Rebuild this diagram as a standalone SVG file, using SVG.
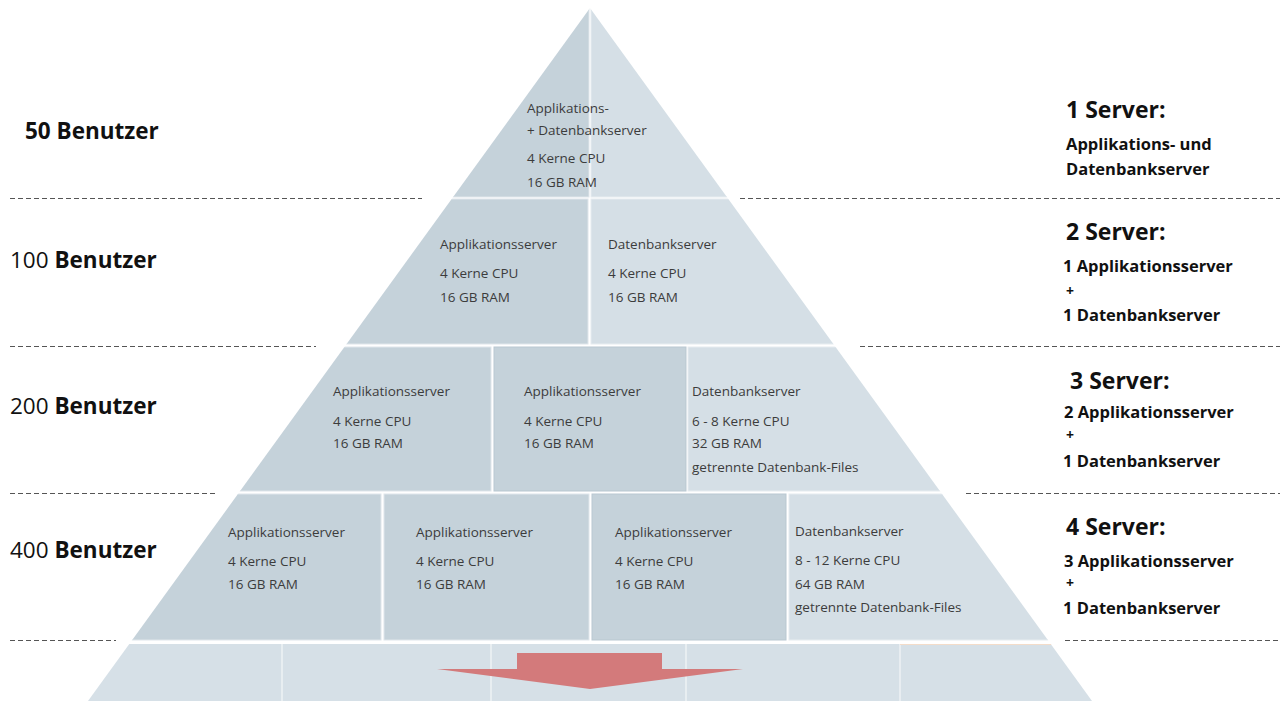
<svg xmlns="http://www.w3.org/2000/svg" width="1282" height="701" viewBox="0 0 1282 701">
<style>
.dk{fill:#c5d2da;stroke:#dfe6eb;stroke-width:1}
.lt{fill:#d5dfe6;stroke:#e6ecf0;stroke-width:1}
.in{font-family:"Open Sans","Noto Sans",sans-serif;font-size:13.5px;fill:#3c3c3c}
.lb{font-family:"Open Sans","Noto Sans",sans-serif;font-size:22.5px;fill:#111}
.rb{font-family:"Open Sans","Noto Sans",sans-serif;font-weight:bold;fill:#111}
.h{font-size:23px}
.s{font-size:16.5px}
.p{font-size:14px}
.dash{stroke:#555;stroke-width:1;stroke-dasharray:5 3;fill:none}
</style>
<defs>
<clipPath id="pyr"><polygon points="590,8 1092,701 88,701"/></clipPath>
</defs>
<rect width="1282" height="701" fill="#ffffff"/>
<g id="pyramid" clip-path="url(#pyr)">
<g id="tier1">
<rect class="dk" x="0" y="0" width="589" height="197"/>
<rect class="lt" x="591" y="0" width="700" height="197"/>
</g>
<g id="tier2">
<rect class="dk" x="0" y="199" width="588" height="145"/>
<rect class="lt" x="591" y="199" width="700" height="145"/>
</g>
<g id="tier3">
<rect class="dk" x="0" y="347" width="491" height="144"/>
<rect class="dk" x="494" y="347" width="192" height="144" style="stroke:#b9c8d1"/>
<rect class="lt" x="688" y="347" width="600" height="144"/>
</g>
<g id="tier4">
<rect class="dk" x="0" y="494" width="381" height="146"/>
<rect class="dk" x="384" y="494" width="205" height="146"/>
<rect class="dk" x="592" y="494" width="194" height="146" style="stroke:#b9c8d1"/>
<rect class="lt" x="789" y="494" width="500" height="146"/>
</g>
<g id="tier5">
<rect x="0" y="644" width="1282" height="60" fill="#d6e0e7"/>
<path d="M282,644V701M491,644V701M686,644V701M900,644V701" stroke="#eef2f5" stroke-width="1.5"/>
<line x1="900" y1="644.5" x2="1100" y2="644.5" stroke="#f3dcc9" stroke-width="1"/>
</g>
</g>
<g id="arrow">
<polygon points="517,653 662,653 662,669 743,669 590,689 437,669 517,669" fill="#d37a7b"/>
</g>
<g id="node-tier1-text">
<text class="in" x="527" y="113">Applikations-</text>
<text class="in" x="527" y="135">+ Datenbankserver</text>
<text class="in" x="527" y="163">4 Kerne CPU</text>
<text class="in" x="527" y="187">16 GB RAM</text>
</g>
<g id="node-tier2-app">
<text class="in" x="440" y="249">Applikationsserver</text>
<text class="in" x="440" y="278">4 Kerne CPU</text>
<text class="in" x="440" y="302">16 GB RAM</text>
</g>
<g id="node-tier2-db">
<text class="in" x="608" y="249">Datenbankserver</text>
<text class="in" x="608" y="278">4 Kerne CPU</text>
<text class="in" x="608" y="302">16 GB RAM</text>
</g>
<g id="node-tier3-app1">
<text class="in" x="333" y="396">Applikationsserver</text>
<text class="in" x="333" y="426">4 Kerne CPU</text>
<text class="in" x="333" y="448">16 GB RAM</text>
</g>
<g id="node-tier3-app2">
<text class="in" x="524" y="396">Applikationsserver</text>
<text class="in" x="524" y="426">4 Kerne CPU</text>
<text class="in" x="524" y="448">16 GB RAM</text>
</g>
<g id="node-tier3-db">
<text class="in" x="692" y="396">Datenbankserver</text>
<text class="in" x="692" y="426">6 - 8 Kerne CPU</text>
<text class="in" x="692" y="448">32 GB RAM</text>
<text class="in" x="692" y="472">getrennte Datenbank-Files</text>
</g>
<g id="node-tier4-app1">
<text class="in" x="228" y="537">Applikationsserver</text>
<text class="in" x="228" y="566">4 Kerne CPU</text>
<text class="in" x="228" y="589">16 GB RAM</text>
</g>
<g id="node-tier4-app2">
<text class="in" x="416" y="537">Applikationsserver</text>
<text class="in" x="416" y="566">4 Kerne CPU</text>
<text class="in" x="416" y="589">16 GB RAM</text>
</g>
<g id="node-tier4-app3">
<text class="in" x="615" y="537">Applikationsserver</text>
<text class="in" x="615" y="566">4 Kerne CPU</text>
<text class="in" x="615" y="589">16 GB RAM</text>
</g>
<g id="node-tier4-db">
<text class="in" x="795" y="536">Datenbankserver</text>
<text class="in" x="795" y="565">8 - 12 Kerne CPU</text>
<text class="in" x="795" y="589">64 GB RAM</text>
<text class="in" x="795" y="612">getrennte Datenbank-Files</text>
</g>
<g id="connectors">
<line class="dash" x1="10" y1="198.5" x2="422" y2="198.5"/>
<line class="dash" x1="740" y1="198.5" x2="1280" y2="198.5"/>
<line class="dash" x1="10" y1="346.5" x2="316" y2="346.5"/>
<line class="dash" x1="860" y1="346.5" x2="1280" y2="346.5"/>
<line class="dash" x1="10" y1="493.5" x2="215" y2="493.5"/>
<line class="dash" x1="966" y1="493.5" x2="1280" y2="493.5"/>
<line class="dash" x1="10" y1="640.5" x2="116" y2="640.5"/>
<line class="dash" x1="1065" y1="640.5" x2="1280" y2="640.5"/>
</g>
<g id="left-labels">
<text class="lb" x="25" y="139" font-weight="bold">50 Benutzer</text>
<text class="lb" x="10" y="268">100 <tspan font-weight="bold">Benutzer</tspan></text>
<text class="lb" x="10" y="414">200 <tspan font-weight="bold">Benutzer</tspan></text>
<text class="lb" x="10" y="558">400 <tspan font-weight="bold">Benutzer</tspan></text>
</g>
<g id="right-labels">
<text class="rb h" x="1066" y="118">1 Server:</text>
<text class="rb s" x="1066" y="150">Applikations- und</text>
<text class="rb s" x="1066" y="175">Datenbankserver</text>
<text class="rb h" x="1066" y="240">2 Server:</text>
<text class="rb s" x="1063" y="272">1 Applikationsserver</text>
<text class="rb p" x="1066" y="296">+</text>
<text class="rb s" x="1063" y="321">1 Datenbankserver</text>
<text class="rb h" x="1070" y="389">3 Server:</text>
<text class="rb s" x="1064" y="418">2 Applikationsserver</text>
<text class="rb p" x="1066" y="440">+</text>
<text class="rb s" x="1063" y="467">1 Datenbankserver</text>
<text class="rb h" x="1066" y="535">4 Server:</text>
<text class="rb s" x="1064" y="567">3 Applikationsserver</text>
<text class="rb p" x="1066" y="588">+</text>
<text class="rb s" x="1063" y="614">1 Datenbankserver</text>
</g>
</svg>
